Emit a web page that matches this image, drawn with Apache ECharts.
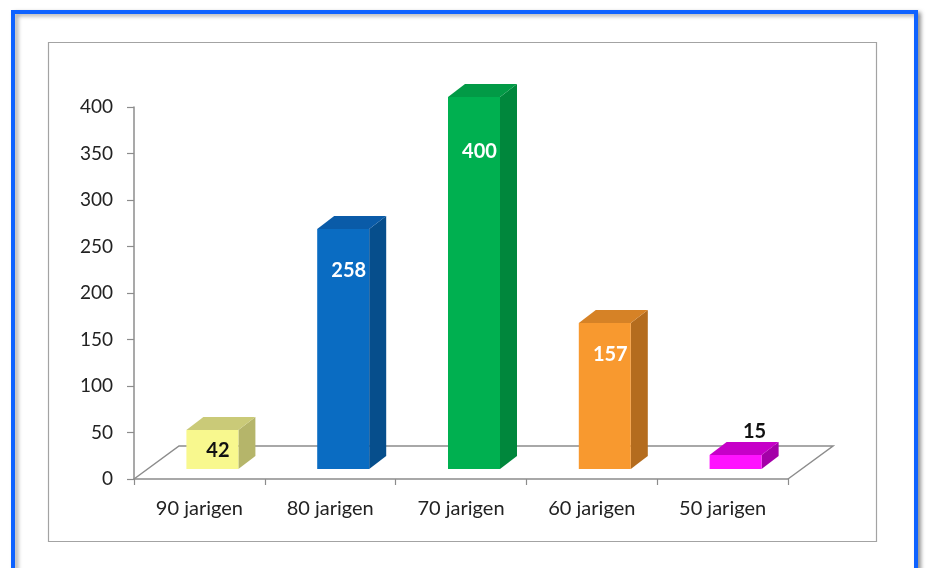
<!DOCTYPE html>
<html>
<head>
<meta charset="utf-8">
<title>Jarigen</title>
<script src="https://cdn.jsdelivr.net/npm/echarts@6/dist/echarts.min.js"></script>
<style>
  html, body { margin: 0; padding: 0; background: #ffffff; }
  #chart { width: 926px; height: 568px; }
</style>
</head>
<body>
<div id="chart"></div>
<script>
// Category names, counts and axis ticks
const categories = ['90 jarigen', '80 jarigen', '70 jarigen', '60 jarigen', '50 jarigen'];
const counts = [42, 258, 400, 157, 15];
const yTicks = [0, 50, 100, 150, 200, 250, 300, 350, 400];

// Face colours per bar: front, side, top, label
const barStyles = [
  { front: '#F8F88E', side: '#B5B56A', top: '#CACA78', label: '#111111' },
  { front: '#0A6CC2', side: '#064E8C', top: '#0A5BA8', label: '#FFFFFF' },
  { front: '#00B050', side: '#00873C', top: '#029A46', label: '#FFFFFF' },
  { front: '#F8992F', side: '#B46C1E', top: '#D68226', label: '#FFFFFF' },
  { front: '#FF12FF', side: '#A400A8', top: '#C600C8', label: '#111111' }
];

// 3D projection constants (pixels)
const FLOOR_DX = 45, FLOOR_DY = -33;   // floor depth
const BAR_SHIFT_X = 13, BAR_SHIFT_Y = -10; // bar front sits part-way back on the floor
const BAR_DX = 17, BAR_DY = -13;      // bar depth
const BAR_W = 52;
const FONT = 'Lato, "Open Sans", sans-serif';

const chart = echarts.init(document.getElementById('chart'), null, { renderer: 'canvas' });

function renderFloor(params, api) {
  const cs = params.coordSys;
  const x0 = cs.x, y0 = cs.y + cs.height, x1 = cs.x + cs.width;
  return {
    type: 'polyline',
    silent: true,
    shape: {
      points: [
        [x0, y0],
        [x0 + FLOOR_DX, y0 + FLOOR_DY],
        [x1 + FLOOR_DX, y0 + FLOOR_DY],
        [x1, y0]
      ]
    },
    style: { stroke: '#8C8C8C', lineWidth: 1.5, fill: null }
  };
}

function renderBar(params, api) {
  const i = api.value(0);
  const v = api.value(1);
  const base = api.coord([i, 0]);
  const topPt = api.coord([i, v]);
  const cx = base[0] + BAR_SHIFT_X;
  const xl = cx - BAR_W / 2, xr = cx + BAR_W / 2;
  const yb = base[1] + BAR_SHIFT_Y;
  const yt = topPt[1] + BAR_SHIFT_Y;
  const st = barStyles[params.dataIndex];
  const h = yb - yt;

  const children = [
    {
      type: 'polygon',
      shape: { points: [[xr, yb], [xr + BAR_DX, yb + BAR_DY], [xr + BAR_DX, yt + BAR_DY], [xr, yt]] },
      style: { fill: st.side }
    },
    {
      type: 'polygon',
      shape: { points: [[xl, yt], [xr, yt], [xr + BAR_DX, yt + BAR_DY], [xl + BAR_DX, yt + BAR_DY]] },
      style: { fill: st.top }
    },
    {
      type: 'rect',
      shape: { x: xl, y: yt, width: BAR_W, height: h },
      style: { fill: st.front }
    }
  ];

  // value label: inside near the top for tall bars, above for very short ones
  let ly, lx;
  if (h < 25) {
    lx = cx + BAR_DX + 2;
    ly = yt + BAR_DY - 11;
  } else {
    lx = cx + BAR_DX / 2 - 3;
    ly = yt + 17 + 0.1 * h;
  }
  children.push({
    type: 'text',
    style: {
      text: String(v),
      x: lx,
      y: ly,
      align: 'center',
      verticalAlign: 'middle',
      fill: st.label,
      font: 'bold 20px ' + FONT
    }
  });

  return { type: 'group', children: children };
}

const option = {
  backgroundColor: '#ffffff',
  animation: false,
  graphic: [
    {
      type: 'rect',
      shape: { x: 13, y: 12, width: 903, height: 600 },
      style: {
        fill: '#ffffff',
        stroke: '#0E62FF',
        lineWidth: 4,
        shadowColor: 'rgba(0,0,0,0.35)',
        shadowBlur: 4,
        shadowOffsetX: 3,
        shadowOffsetY: 2
      },
      z: -10,
      silent: true
    },
    {
      type: 'rect',
      shape: { x: 48.5, y: 42.5, width: 828, height: 499 },
      style: { fill: '#ffffff', stroke: '#A3A3A3', lineWidth: 1.2 },
      z: -9,
      silent: true
    }
  ],
  grid: { left: 134, right: 138, top: 107, bottom: 89, containLabel: false },
  xAxis: {
    type: 'category',
    data: categories,
    boundaryGap: true,
    axisLine: { show: true, lineStyle: { color: '#8C8C8C', width: 1.5 } },
    axisTick: { show: true, length: 6, alignWithLabel: false, lineStyle: { color: '#8C8C8C', width: 1.2 } },
    axisLabel: { color: '#222222', fontSize: 20, fontFamily: FONT, margin: 20 },
    splitLine: { show: false }
  },
  yAxis: {
    type: 'value',
    min: yTicks[0],
    max: yTicks[yTicks.length - 1],
    interval: yTicks[1] - yTicks[0],
    axisLine: { show: true, lineStyle: { color: '#8C8C8C', width: 1.5 } },
    axisTick: { show: true, length: 7, lineStyle: { color: '#8C8C8C', width: 1.2 } },
    axisLabel: { color: '#222222', fontSize: 19, fontFamily: FONT, margin: 21 },
    splitLine: { show: false }
  },
  series: [
    {
      type: 'custom',
      renderItem: renderFloor,
      data: [[0, 0]],
      silent: true,
      z: 1
    },
    {
      type: 'custom',
      renderItem: renderBar,
      encode: { x: 0, y: 1 },
      data: counts.map((v, i) => [i, v]),
      clip: false,
      z: 3
    }
  ]
};

chart.setOption(option);
</script>
</body>
</html>
